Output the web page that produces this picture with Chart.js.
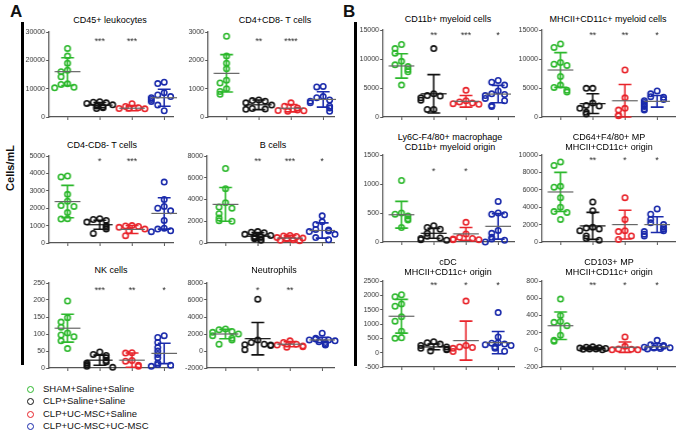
<!DOCTYPE html>
<html>
<head>
<meta charset="utf-8">
<script src="https://cdn.jsdelivr.net/npm/chart.js@4.4.1/dist/chart.umd.min.js"></script>
<style>
  body { margin: 0; width: 676px; height: 431px; position: relative; background: #fff; overflow: hidden;
         font-family: Arial, "Liberation Sans", sans-serif; color: #111; }
  .box { position: absolute; }
  .title { position: absolute; transform: translateX(-50%); font-size: 9px; line-height: 10px;
           white-space: nowrap; text-align: center; color: #000; }
  .bar { position: absolute; background: #000; width: 2.5px; }
  .lab { position: absolute; font-weight: bold; font-size: 17px; }
  .leg { position: absolute; left: 27px; font-size: 9.5px; line-height: 12px; white-space: nowrap; }
  .leg i { display: inline-block; width: 5px; height: 5px; border: 1.6px solid; border-radius: 50%;
           margin-right: 9px; vertical-align: -1px; }
</style>
</head>
<body>
<div class="lab" style="left:10px;top:2px">A</div>
<div class="lab" style="left:343px;top:2px">B</div>
<div class="bar" style="left:21px;top:22px;height:343px"></div>
<div class="bar" style="left:354px;top:22px;height:344px"></div>
<div style="position:absolute;left:10px;top:168px;transform:translate(-50%,-50%) rotate(-90deg);font-weight:bold;font-size:11px;white-space:nowrap">Cells/mL</div>
<div id="legend"></div>
<script>
const groups = ["SHAM+Saline+Saline", "CLP+Saline+Saline", "CLP+UC-MSC+Saline", "CLP+UC-MSC+UC-MSC"];
const colors = ["#2cb82c", "#111111", "#e8232a", "#1a2aab"];

// each panel: points per group, mean, SD, significance stars
const cd45Pts = [[24200, 21500, 19000, 16500, 16000, 14200, 11700, 11500, 10500, 10300], [5400, 5200, 5000, 4800, 4300, 3900, 3500, 3300, 3000], [4700, 3700, 3300, 3000, 2900, 3100], [12300, 11800, 8600, 7800, 7200, 6800, 6200, 5500, 4200, 2200]];
const cd45Mean = [16000, 4200, 3100, 6800];
const cd45Sd = [4900, 900, 900, 3000];
const cd45Stars = ["", "***", "***", ""];

const cd4Pts = [[2850, 2150, 1900, 1700, 1300, 1200, 1000, 900, 800], [600, 580, 560, 500, 420, 300, 280, 270], [500, 380, 320, 250, 230, 220, 200], [1080, 1060, 720, 680, 600, 560, 500, 380, 320, 200]];
const cd4Mean = [1540, 430, 310, 620];
const cd4Sd = [660, 170, 130, 270];
const cd4Stars = ["", "**", "****", ""];

const dnPts = [[3850, 3800, 2800, 2400, 2150, 2100, 1750, 1400, 1380], [1400, 1350, 1300, 1200, 1000, 900, 800, 550], [1000, 980, 950, 900, 800, 700, 420], [3500, 2500, 2100, 2000, 1850, 1300, 850, 800, 700, 650]];
const dnMean = [2380, 1050, 780, 1700];
const dnSd = [930, 260, 230, 900];
const dnStars = ["", "*", "***", ""];

const bPts = [[6850, 5000, 3700, 3300, 3200, 2700, 2300, 2050, 2000], [1050, 1000, 950, 800, 700, 600, 550, 450, 400, 300, 250], [700, 650, 600, 500, 450, 400, 300, 250, 200], [2500, 1950, 1700, 1250, 1200, 1100, 1050, 800, 500, 300]];
const bMean = [3550, 620, 450, 1150];
const bSd = [1550, 330, 250, 700];
const bStars = ["", "**", "***", "*"];

const nkPts = [[197, 148, 135, 120, 103, 97, 92, 80, 57], [47, 40, 37, 30, 22, 18, 15, 10, 5, 2], [45, 44, 22, 20, 8, 5], [95, 90, 75, 60, 50, 40, 30, 15, 10, 8, 5]];
const nkMean = [117, 23, 23, 43];
const nkSd = [41, 15, 21, 30];
const nkStars = ["", "***", "**", "*"];

const neuPts = [[2600, 2500, 2300, 2200, 2000, 1800, 1500, 1300, 800], [6100, 1300, 1000, 800, 750, 700, 650, 150], [1200, 1000, 800, 700, 600, 500, 450], [2100, 1500, 1400, 1300, 1300, 1200, 1100, 1000, 800, 700]];
const neuMean = [2000, 1450, 800, 1300];
const neuSd = [550, 1900, 300, 300];
const neuStars = ["", "*", "**", ""];

const cd11bPts = [[12500, 11800, 11000, 9600, 9000, 8700, 8200, 7800, 5500], [11800, 4000, 3700, 3600, 3300, 2900, 1300, 1300], [4600, 2800, 2600, 2400, 2300, 2200], [6300, 6000, 5500, 4500, 4000, 3900, 3700, 3200, 2800, 2000, 1800]];
const cd11bMean = [8800, 4000, 2700, 3950];
const cd11bSd = [2100, 3300, 1000, 1500];
const cd11bStars = ["", "**", "***", "*"];

const mhcPts = [[12600, 12000, 9400, 9100, 8900, 7000, 5500, 5100, 4600, 4300], [4950, 4950, 2400, 2000, 1900, 1500, 800, 500], [8100, 3300, 1500, 1200, 300, 200], [4500, 4000, 3500, 3400, 3000, 2800, 2500, 2200, 2000, 1800, 1400, 1200]];
const mhcMean = [8100, 2300, 2800, 2700];
const mhcSd = [3000, 1700, 2800, 1000];
const mhcStars = ["", "**", "**", "*"];

const ly6cPts = [[1060, 500, 480, 450, 400, 380, 250], [280, 250, 220, 150, 100, 70, 60, 40, 30], [340, 140, 80, 60, 50, 40, 40], [700, 500, 480, 470, 200, 150, 80, 50, 30, 0]];
const ly6cMean = [470, 150, 140, 270];
const ly6cSd = [230, 85, 110, 220];
const ly6cStars = ["", "*", "*", ""];

const cd64Pts = [[9200, 8800, 6400, 6300, 5100, 4000, 3500, 3400, 2600], [4600, 3600, 1700, 1600, 1500, 1300, 700, 400, 200], [5100, 2600, 1300, 1200, 700, 300], [3800, 3200, 2600, 2200, 2000, 1700, 1500, 1300, 1200, 900, 700]];
const cd64Mean = [5750, 1850, 2000, 2000];
const cd64Sd = [2250, 1550, 1650, 900];
const cd64Stars = ["", "**", "*", "*"];

const cdcPts = [[2020, 1950, 1700, 1620, 1250, 1100, 750, 520, 500], [380, 350, 300, 250, 200, 150, 120, 100, 60], [1800, 250, 200, 180, 150, 40], [1400, 550, 350, 330, 300, 280, 250, 200, 150, 50]];
const cdcMean = [1270, 200, 420, 350];
const cdcSd = [590, 100, 680, 390];
const cdcStars = ["", "**", "*", "*"];

const cd103Pts = [[590, 400, 330, 320, 280, 170, 110, 100], [35, 30, 25, 20, 15, 10, 10, 5, 0], [150, 40, 10, 5, 0, 0], [110, 60, 50, 40, 30, 25, 20, 15, 10]];
const cd103Mean = [280, 15, 30, 35];
const cd103Sd = [160, 15, 60, 35];
const cd103Stars = ["", "**", "*", "*"];

// y axis ranges [min, max, step]
const cd45Ticks = [0, 30000, 10000];
const cd4Ticks = [0, 3000, 1000];
const dnTicks = [0, 5000, 1000];
const bTicks = [0, 8000, 2000];
const nkTicks = [0, 250, 50];
const neuTicks = [-2000, 8000, 2000];
const cd11bTicks = [0, 15000, 5000];
const mhcTicks = [0, 15000, 5000];
const ly6cTicks = [0, 1500, 500];
const cd64Ticks = [0, 10000, 2000];
const cdcTicks = [-500, 2500, 500];
const cd103Ticks = [-200, 800, 200];

const offsets = [0, -0.2, 0.2, -0.4, 0.4, -0.1, 0.1, -0.3, 0.3];

function spread(vals, range) {
  const placed = [];
  return vals.map(v => {
    const near = placed.filter(p => Math.abs(p - v) < range * 0.065).length;
    placed.push(v);
    return offsets[near % offsets.length];
  });
}

const errorBars = {
  id: "errorBars",
  afterDatasetsDraw(chart, args, opts) {
    const { ctx, scales: { x, y } } = chart;
    ctx.save();
    opts.mean.forEach((m, i) => {
      const s = opts.sd[i];
      const cx = x.getPixelForValue(i);
      const capW = x.getPixelForValue(i + 0.2) - cx;
      const meanW = x.getPixelForValue(i + 0.4) - cx;
      const yt = y.getPixelForValue(m + s);
      const yb = y.getPixelForValue(m - s);
      ctx.strokeStyle = colors[i];
      ctx.lineWidth = 1.6;
      ctx.beginPath();
      ctx.moveTo(cx, yt); ctx.lineTo(cx, yb);
      ctx.moveTo(cx - capW, yt); ctx.lineTo(cx + capW, yt);
      ctx.moveTo(cx - capW, yb); ctx.lineTo(cx + capW, yb);
      ctx.stroke();
      ctx.strokeStyle = i == 1 ? "#111" : "#666";
      ctx.lineWidth = 1.2;
      const ym = y.getPixelForValue(m);
      ctx.beginPath();
      ctx.moveTo(cx - meanW, ym); ctx.lineTo(cx + meanW, ym);
      ctx.stroke();
    });
    ctx.fillStyle = "#222";
    ctx.font = "8.5px Arial";
    ctx.textAlign = "center";
    ctx.textBaseline = "top";
    opts.stars.forEach((st, i) => {
      if (st) ctx.fillText(st, x.getPixelForValue(i), chart.chartArea.top + opts.drop - 2);
    });
    ctx.restore();
  }
};

function panel(pos, title, pts, mean, sd, stars, yr) {
  // title lines
  title.forEach((line, k) => {
    const t = document.createElement("div");
    t.className = "title";
    t.textContent = line;
    t.style.left = pos.tx + "px";
    t.style.top = (pos.ty - 5 + k * 10) + "px";
    document.body.appendChild(t);
  });

  const range = yr[1] - yr[0];
  const datasets = pts.map((vals, g) => {
    const offs = spread(vals, range);
    return {
      label: groups[g],
      data: vals.map((v, k) => ({ x: g + offs[k], y: v })),
      borderColor: colors[g],
      backgroundColor: "rgba(0,0,0,0)",
      pointRadius: 2.7,
      pointBorderWidth: 1.6,
      clip: false
    };
  });

  const xMin = -0.57;
  const xMax = xMin + (pos.end - pos.ax) / 32;

  const wrap = document.createElement("div");
  wrap.className = "box";
  let w = pos.end - pos.ax + 32;
  let h = pos.bot - pos.top + 13;
  wrap.style.width = w + "px";
  wrap.style.height = h + "px";
  const cv = document.createElement("canvas");
  wrap.appendChild(cv);
  document.body.appendChild(wrap);

  const chart = new Chart(cv, {
    type: "scatter",
    data: { datasets: datasets },
    options: {
      animation: false,
      responsive: true,
      maintainAspectRatio: false,
      layout: { padding: { top: 6, right: 2, bottom: 1, left: 0 } },
      plugins: {
        legend: { display: false },
        tooltip: { enabled: false },
        errorBars: { mean: mean, sd: sd, stars: stars, drop: pos.drop }
      },
      scales: {
        x: {
          type: "linear",
          min: xMin,
          max: xMax,
          afterBuildTicks: (s) => { s.ticks = [0, 1, 2, 3].map(v => ({ value: v })); },
          afterFit: (s) => { s.height = 5; },
          ticks: { display: false },
          grid: { drawOnChartArea: false, tickLength: 3, tickColor: "#555", lineWidth: 1 },
          border: { color: "#555", width: 1.2 }
        },
        y: {
          min: yr[0],
          max: yr[1],
          afterFit: (s) => { s.width = 30; },
          ticks: { stepSize: yr[2], padding: 1, color: "#333", font: { size: 7, family: "Arial" },
                   callback: (v) => String(v) },
          grid: { drawOnChartArea: false, tickLength: 3, tickColor: "#555", lineWidth: 1 },
          border: { color: "#555", width: 1.2 }
        }
      }
    },
    plugins: [errorBars]
  });

  // fit the plot area onto the reference position
  const ca = chart.chartArea;
  w += (pos.end - pos.ax) - (ca.right - ca.left);
  h += (pos.bot - pos.top) - (ca.bottom - ca.top);
  wrap.style.width = w + "px";
  wrap.style.height = h + "px";
  chart.resize();
  const ca2 = chart.chartArea;
  wrap.style.left = (pos.ax - ca2.left) + "px";
  wrap.style.top = (pos.top - ca2.top) + "px";
}

panel({ ax: 49, top: 32, bot: 117, end: 172, tx: 110, ty: 20, drop: 7 }, ["CD45+ leukocytes"], cd45Pts, cd45Mean, cd45Sd, cd45Stars, cd45Ticks);
panel({ ax: 208, top: 32, bot: 117, end: 333, tx: 275, ty: 20, drop: 7 }, ["CD4+CD8- T cells"], cd4Pts, cd4Mean, cd4Sd, cd4Stars, cd4Ticks);
panel({ ax: 49, top: 156, bot: 243, end: 172, tx: 102, ty: 145, drop: 3 }, ["CD4-CD8- T cells"], dnPts, dnMean, dnSd, dnStars, dnTicks);
panel({ ax: 207, top: 156, bot: 243, end: 333, tx: 273, ty: 145, drop: 3 }, ["B cells"], bPts, bMean, bSd, bStars, bTicks);
panel({ ax: 49, top: 283, bot: 368, end: 172, tx: 111, ty: 270, drop: 5 }, ["NK cells"], nkPts, nkMean, nkSd, nkStars, nkTicks);
panel({ ax: 207, top: 283, bot: 368, end: 333, tx: 274, ty: 270, drop: 5 }, ["Neutrophils"], neuPts, neuMean, neuSd, neuStars, neuTicks);
panel({ ax: 383, top: 30, bot: 117, end: 513, tx: 448, ty: 19, drop: 3 }, ["CD11b+ myeloid cells"], cd11bPts, cd11bMean, cd11bSd, cd11bStars, cd11bTicks);
panel({ ax: 542, top: 30, bot: 117, end: 674, tx: 608, ty: 19, drop: 3 }, ["MHCII+CD11c+ myeloid cells"], mhcPts, mhcMean, mhcSd, mhcStars, mhcTicks);
panel({ ax: 383, top: 155, bot: 242, end: 513, tx: 450, ty: 137, drop: 14 }, ["Ly6C-F4/80+ macrophage", "CD11b+ myeloid origin"], ly6cPts, ly6cMean, ly6cSd, ly6cStars, ly6cTicks);
panel({ ax: 542, top: 155, bot: 242, end: 674, tx: 609, ty: 137, drop: 3 }, ["CD64+F4/80+ MP", "MHCII+CD11c+ origin"], cd64Pts, cd64Mean, cd64Sd, cd64Stars, cd64Ticks);
panel({ ax: 383, top: 281, bot: 367, end: 513, tx: 448, ty: 262, drop: 2 }, ["cDC", "MHCII+CD11c+ origin"], cdcPts, cdcMean, cdcSd, cdcStars, cdcTicks);
panel({ ax: 542, top: 281, bot: 367, end: 674, tx: 609, ty: 262, drop: 2 }, ["CD103+ MP", "MHCII+CD11c+ origin"], cd103Pts, cd103Mean, cd103Sd, cd103Stars, cd103Ticks);

// legend
const legTops = [383, 395, 408, 420];
groups.forEach((g, i) => {
  const d = document.createElement("div");
  d.className = "leg";
  d.style.top = legTops[i] + "px";
  d.innerHTML = '<i style="border-color:' + colors[i] + '"></i>';
  d.appendChild(document.createTextNode(g));
  document.getElementById("legend").appendChild(d);
});
</script>
</body>
</html>
